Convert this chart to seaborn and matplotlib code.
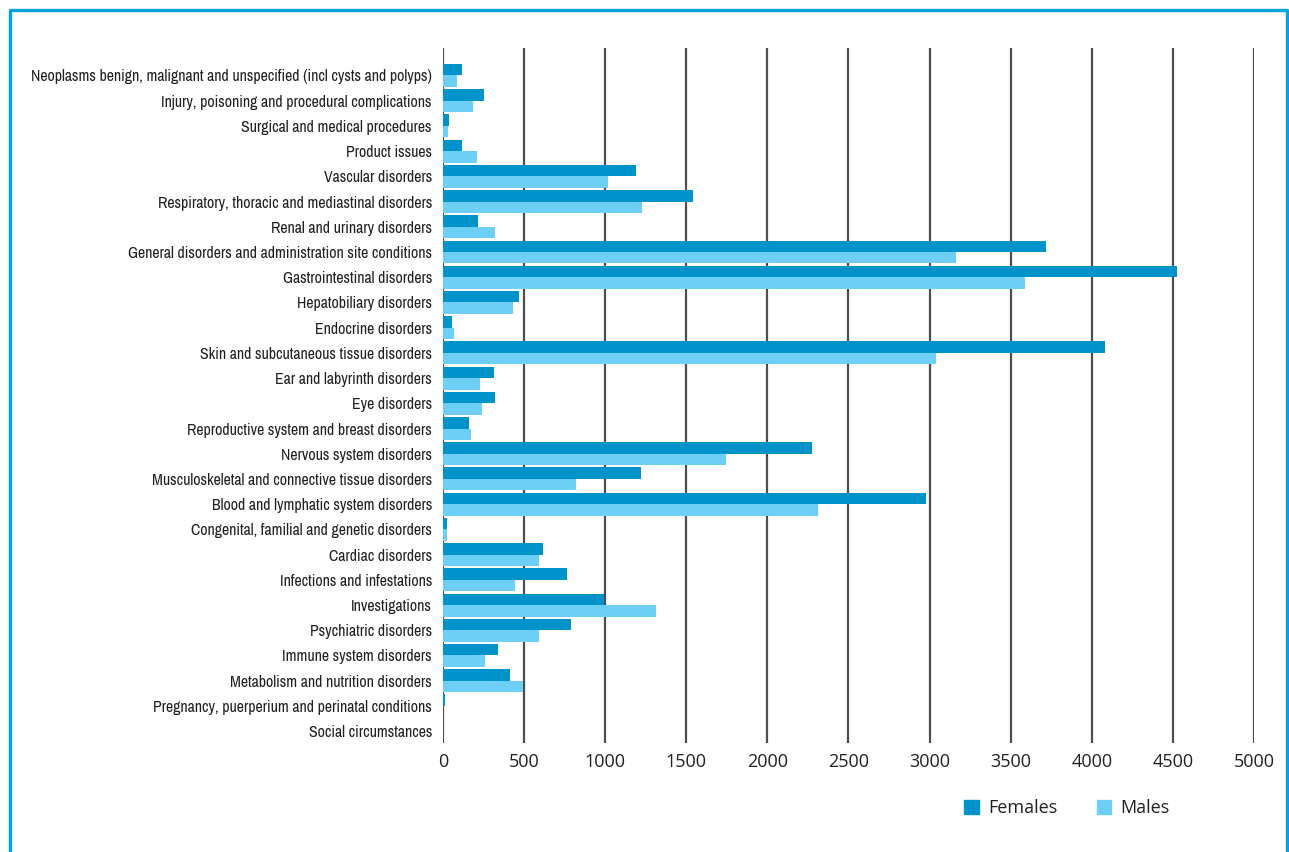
import pandas as pd
import seaborn as sns
import matplotlib.pyplot as plt
from matplotlib import font_manager
from matplotlib.lines import Line2D

categories = [
    'Neoplasms benign, malignant and unspecified (incl cysts and polyps)',
    'Injury, poisoning and procedural complications',
    'Surgical and medical procedures',
    'Product issues',
    'Vascular disorders',
    'Respiratory, thoracic and mediastinal disorders',
    'Renal and urinary disorders',
    'General disorders and administration site conditions',
    'Gastrointestinal disorders',
    'Hepatobiliary disorders',
    'Endocrine disorders',
    'Skin and subcutaneous tissue disorders',
    'Ear and labyrinth disorders',
    'Eye disorders',
    'Reproductive system and breast disorders',
    'Nervous system disorders',
    'Musculoskeletal and connective tissue disorders',
    'Blood and lymphatic system disorders',
    'Congenital, familial and genetic disorders',
    'Cardiac disorders',
    'Infections and infestations',
    'Investigations',
    'Psychiatric disorders',
    'Immune system disorders',
    'Metabolism and nutrition disorders',
    'Pregnancy, puerperium and perinatal conditions',
    'Social circumstances',
]
females = [119, 254, 40, 119, 1190, 1541, 217, 3716, 4525, 470, 57, 4080, 316, 322, 162,
           2274, 1221, 2976, 26, 618, 766, 993, 790, 341, 415, 14, 0]
males = [88, 187, 30, 211, 1018, 1227, 322, 3162, 3587, 433, 70, 3040, 230, 242, 174,
         1745, 821, 2311, 26, 593, 445, 1314, 593, 261, 495, 0, 0]
xticks = [0, 500, 1000, 1500, 2000, 2500, 3000, 3500, 4000, 4500, 5000]

df = pd.DataFrame({
    'Category': categories * 2,
    'Count': females + males,
    'Sex': ['Females'] * len(categories) + ['Males'] * len(categories),
})

# look for a narrow / condensed regular face for the category labels
narrow_fp = None
for f in font_manager.fontManager.ttflist:
    name = (f.name + ' ' + f.fname).lower()
    if f.style != 'normal' or f.weight not in (400, 'normal', 'regular'):
        continue
    if 'mono' in name or 'serif' in name and 'sans' not in name:
        continue
    if 'narrow' in name or 'condensed' in name or f.stretch in ('condensed', 'semi-condensed'):
        narrow_fp = font_manager.FontProperties(fname=f.fname)
        if 'narrow' in name:
            break

installed = {f.name for f in font_manager.fontManager.ttflist}
plain = 'Open Sans' if 'Open Sans' in installed else 'DejaVu Sans'

sns.set_theme(style='white')
plt.rcParams['font.family'] = [plain, 'DejaVu Sans']

txt = '#231F20'

fig = plt.figure(figsize=(12.89, 8.52), dpi=100)
ax = fig.add_axes([443 / 1289, 109 / 852, (1254 - 443) / 1289, (743 - 47.7) / 852])

palette = {'Females': '#0093C9', 'Males': '#6DCFF6'}
sns.barplot(data=df, y='Category', x='Count', hue='Sex', hue_order=['Females', 'Males'],
            order=categories, palette=palette, orient='h', width=0.91, saturation=1,
            linewidth=0, ax=ax, legend=False)

ax.set_xlim(0, 5000)
ax.set_ylim(26.47, -1.10)
ax.set_xticks(xticks)
ax.set_xticklabels([str(t) for t in xticks], fontsize=13, color=txt)
ax.tick_params(axis='both', length=0)
ax.tick_params(axis='y', pad=8)
ax.tick_params(axis='x', pad=7)
ax.set_xlabel('')
ax.set_ylabel('')
for s in ax.spines.values():
    s.set_visible(False)

# size the category labels so the longest one spans the same width as in the source
ylabels = ax.get_yticklabels()
for t in ylabels:
    if narrow_fp is not None:
        t.set_fontproperties(narrow_fp)
    t.set_fontsize(12)
    t.set_color(txt)
renderer = fig.canvas.get_renderer()
widest = max(t.get_window_extent(renderer).width for t in ylabels)
size = min(12 * 399 / widest, 12.5)
for t in ylabels:
    t.set_fontsize(size)

for x in xticks:
    ax.axvline(x, color='#4D4D4D', lw=1.6, zorder=0)

handles = [plt.Rectangle((0, 0), 1, 1, color=palette['Females']),
           plt.Rectangle((0, 0), 1, 1, color=palette['Males'])]
fig.legend(handles, ['Females', 'Males'], loc='center', bbox_to_anchor=(1067 / 1289, 1 - 808 / 852),
           ncol=2, frameon=False, fontsize=13, handlelength=0.8, handleheight=0.8,
           handletextpad=0.5, columnspacing=2.2, labelcolor=txt)

# frame around the figure, open at the bottom
bc = '#00A3E0'
fig.add_artist(Line2D([10 / 1289, 10 / 1289, 1287 / 1289, 1287 / 1289],
                      [0, 1 - 10 / 852, 1 - 10 / 852, 0],
                      transform=fig.transFigure, color=bc, lw=2.4))

fig.savefig('out.png', dpi=100)
